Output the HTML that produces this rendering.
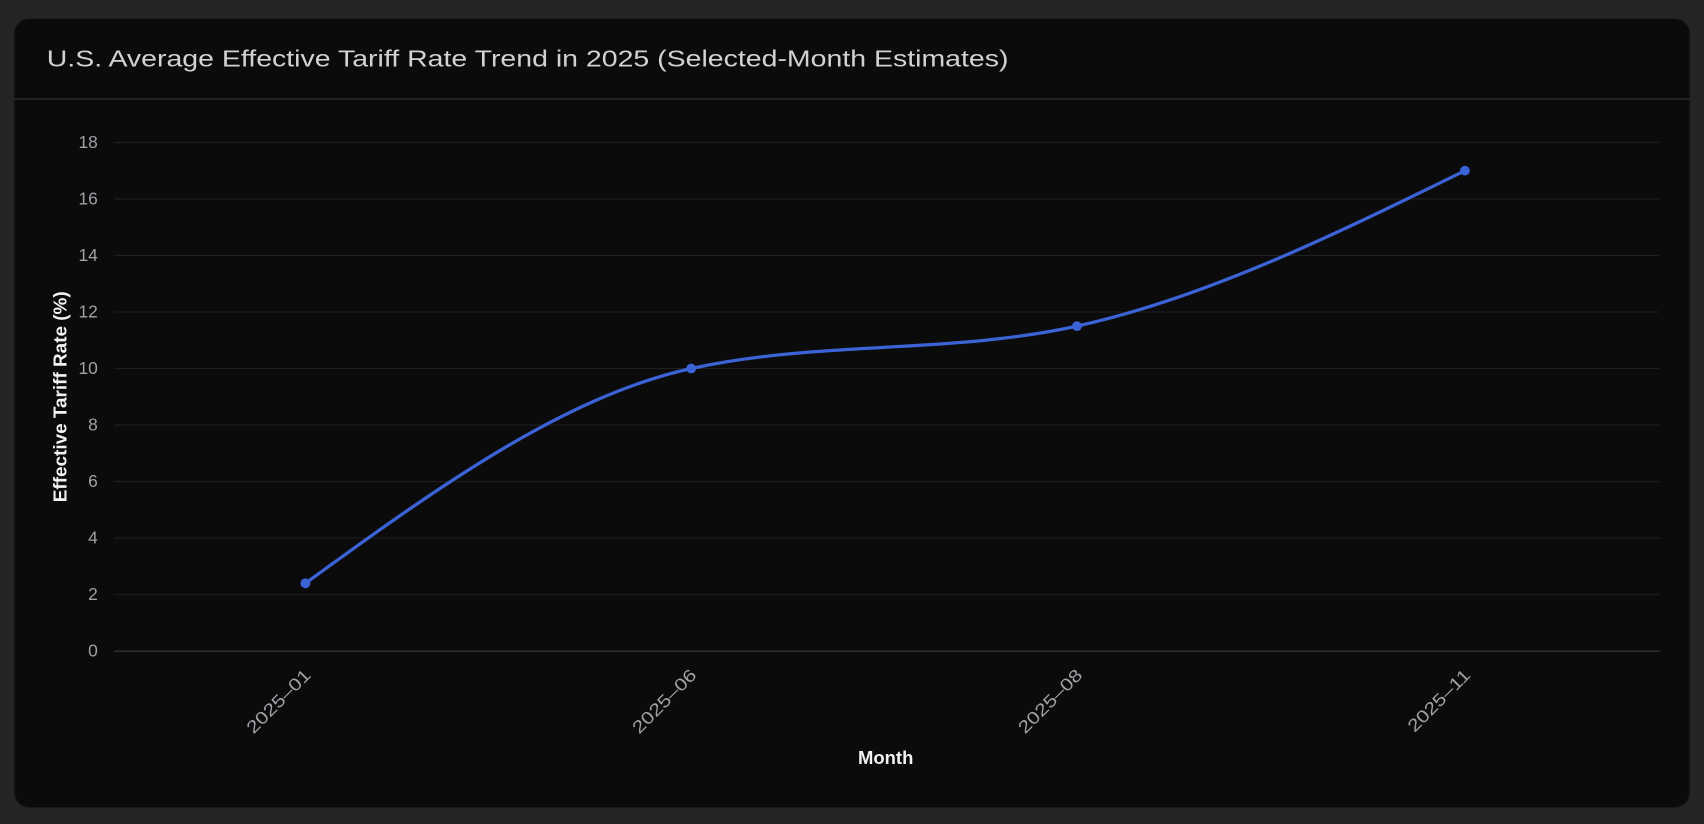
<!DOCTYPE html>
<html><head><meta charset="utf-8"><style>
html,body{margin:0;padding:0;background:#252527;}
svg{display:block;}
</style></head><body>
<svg width="1704" height="824" viewBox="0 0 1568 758" preserveAspectRatio="none" xmlns="http://www.w3.org/2000/svg" font-family="Liberation Sans, sans-serif">
<rect x="0" y="0" width="1568" height="758" fill="#252527"/>
<rect x="13" y="17" width="1542" height="726" rx="14" fill="#0b0b0c" stroke="#1e1e20"/>
<text x="43" y="61" font-size="21" fill="#d2d2d4" textLength="885" lengthAdjust="spacingAndGlyphs">U.S. Average Effective Tariff Rate Trend in 2025 (Selected-Month Estimates)</text>
<line x1="13" y1="91" x2="1555" y2="91" stroke="#333336" stroke-width="1"/>
<g stroke="#1f1f22" stroke-width="1">
<line x1="105" y1="131" x2="1527" y2="131"/><line x1="105" y1="183" x2="1527" y2="183"/>
<line x1="105" y1="235" x2="1527" y2="235"/><line x1="105" y1="287" x2="1527" y2="287"/>
<line x1="105" y1="339" x2="1527" y2="339"/><line x1="105" y1="391" x2="1527" y2="391"/>
<line x1="105" y1="443" x2="1527" y2="443"/><line x1="105" y1="495" x2="1527" y2="495"/>
<line x1="105" y1="547" x2="1527" y2="547"/>
</g>
<line x1="105" y1="599" x2="1527" y2="599" stroke="#3a3a3d"/>
<g font-size="16" fill="#a0a0a6" text-anchor="end">
<text x="90" y="136">18</text><text x="90" y="188">16</text><text x="90" y="240">14</text>
<text x="90" y="292">12</text><text x="90" y="344">10</text><text x="90" y="396">8</text>
<text x="90" y="448">6</text><text x="90" y="500">4</text><text x="90" y="552">2</text><text x="90" y="604">0</text>
</g>
<g font-size="16" fill="#a0a0a6" text-anchor="end">
<text x="287" y="622" transform="rotate(-45 287 622)" textLength="76" lengthAdjust="spacingAndGlyphs">2025–01</text>
<text x="642" y="622" transform="rotate(-45 642 622)" textLength="76" lengthAdjust="spacingAndGlyphs">2025–06</text>
<text x="997" y="622" transform="rotate(-45 997 622)" textLength="76" lengthAdjust="spacingAndGlyphs">2025–08</text>
<text x="1354" y="622" transform="rotate(-45 1354 622)" textLength="74" lengthAdjust="spacingAndGlyphs">2025–11</text>
</g>
<text x="815" y="703" font-size="17" fill="#f2f2f2" font-weight="bold" text-anchor="middle">Month</text>
<text transform="translate(61 365) rotate(-90)" font-size="17" fill="#f2f2f2" font-weight="bold" text-anchor="middle" textLength="194" lengthAdjust="spacingAndGlyphs">Effective Tariff Rate (%)</text>
<path d="M281,536.6 C399.3,450.8 517.7,365 636,339 C754.3,313 872.7,326 991,300 C1110,273.8 1229,215.4 1348,157" fill="none" stroke="#3b63d6" stroke-width="3"/>
<g fill="#3b63d6">
<circle cx="281" cy="536.6" r="4.5"/><circle cx="636" cy="339" r="4.5"/>
<circle cx="991" cy="300" r="4.5"/><circle cx="1348" cy="157" r="4.5"/>
</g>
</svg>
</body></html>
